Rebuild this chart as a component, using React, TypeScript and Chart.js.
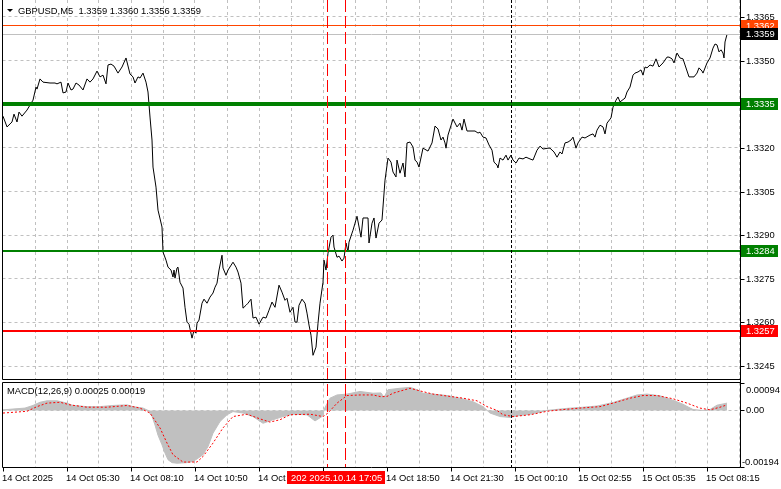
import React, { useEffect, useRef } from 'react';
import { Chart, registerables } from 'chart.js';

Chart.register(...registerables);

// ---------------- data ----------------
const symbolTitle = 'GBPUSD,M5  1.3359 1.3360 1.3356 1.3359';
const macdTitle = 'MACD(12,26,9) 0.00025 0.00019';

// [bar index, close]
const priceSeries: [number, number][] = [
  [0, 1.33309], [2, 1.33272], [4.5, 1.33289], [5.5, 1.33316], [7, 1.33289], [8, 1.33323], [9.5, 1.33309], [12, 1.3333],
  [13.5, 1.33347], [15, 1.33364], [16.5, 1.33409], [17, 1.33402], [18.5, 1.33437], [20, 1.33426], [23.5, 1.33423], [26, 1.33423],
  [27, 1.3342], [29, 1.33426], [30, 1.33389], [31.5, 1.33392], [32.5, 1.33423], [34, 1.33399], [35, 1.33402], [36.5, 1.33423],
  [38, 1.33416], [40, 1.33399], [42, 1.33437], [43.5, 1.33426], [45, 1.33437], [47, 1.33464], [48.5, 1.33444], [50, 1.3345],
  [51.5, 1.3342], [52.5, 1.33485], [54, 1.33488], [55.5, 1.33481], [57.5, 1.33457], [59.5, 1.33478], [61.5, 1.33509], [63.5, 1.33454],
  [65, 1.33444], [66, 1.33423], [67.5, 1.33444], [68.5, 1.3344], [70, 1.33457], [71.5, 1.33426], [72.5, 1.33392], [73.5, 1.33306],
  [74.5, 1.33227], [75, 1.33134], [76.5, 1.33065], [77.5, 1.32986], [79.5, 1.32928], [80, 1.32842], [81.5, 1.32814], [82.5, 1.3279],
  [84, 1.3278], [85, 1.32756], [85.5, 1.3278], [86, 1.32752], [87, 1.32787], [87.5, 1.3279], [88.5, 1.32738], [90, 1.32718],
  [91, 1.32652], [92, 1.32601], [93, 1.32594], [94.5, 1.32546], [95.5, 1.32573], [96.5, 1.32563], [97, 1.32597], [98, 1.32608],
  [99.5, 1.32666], [100.5, 1.3268], [102, 1.32666], [103.5, 1.32687], [105, 1.32701], [106, 1.32721], [107, 1.32735], [108, 1.3278],
  [109.5, 1.32831], [110, 1.32787], [111.5, 1.32762], [112.5, 1.3278], [115, 1.32807], [116.5, 1.3279], [117.5, 1.32773], [119, 1.32735],
  [120, 1.32649], [121.5, 1.32659], [122.5, 1.32666], [124, 1.3268], [125, 1.32615], [126.5, 1.32618], [128, 1.32594], [130, 1.32618],
  [131.5, 1.32615], [133, 1.32642], [134.5, 1.3267], [136, 1.32652], [138, 1.32728], [139.5, 1.32704], [141, 1.32676], [142, 1.32683],
  [143.5, 1.32635], [145, 1.32652], [146, 1.32601], [147, 1.32601], [148, 1.32659], [149.5, 1.3268], [151, 1.32666], [152, 1.32632],
  [153, 1.32591], [154, 1.32556], [155, 1.32487], [156.5, 1.32515], [157.5, 1.32597], [158.5, 1.32666], [160, 1.32738], [160.5, 1.32814],
  [161.5, 1.3278], [162.5, 1.32838], [164, 1.32893], [165, 1.329], [165.5, 1.32859], [167, 1.32824], [168, 1.32828], [169.5, 1.32811],
  [170.5, 1.32821], [171.5, 1.32873], [172.5, 1.32842], [173, 1.32876], [174.5, 1.32907], [175, 1.32917], [176, 1.32941], [177, 1.32965],
  [179, 1.32893], [180, 1.32959], [182.5, 1.32959], [183, 1.32873], [184.5, 1.32941], [185.5, 1.32959], [186.5, 1.3289], [188, 1.32941],
  [189.5, 1.32952], [191, 1.33089], [192.5, 1.33165], [194, 1.33151], [195, 1.33117], [196.5, 1.331], [197, 1.33158], [198.5, 1.33113],
  [200, 1.33148], [201, 1.331], [202, 1.33217], [203.5, 1.3322], [205, 1.33203], [206, 1.33158], [207, 1.33151], [208, 1.33134],
  [210, 1.33199], [212.5, 1.33189], [214.5, 1.33217], [216, 1.33275], [217.5, 1.33265], [219, 1.33227], [220, 1.33237], [221, 1.33217],
  [221.5, 1.33199], [222.5, 1.33244], [225, 1.33299], [227, 1.33272], [228.5, 1.33285], [229.5, 1.33261], [230.5, 1.33299], [232, 1.33258],
  [236, 1.33258], [237.5, 1.33251], [238.5, 1.33254], [240, 1.33237], [241.5, 1.33234], [243, 1.3321], [244.5, 1.33192], [245.5, 1.33151],
  [247, 1.33141], [247.5, 1.33131], [248.5, 1.33165], [250, 1.33158], [251.5, 1.33175], [252.5, 1.33158], [254, 1.33175], [255, 1.33158],
  [256.5, 1.33148], [258, 1.33165], [260, 1.33162], [261.5, 1.33168], [263.5, 1.33162], [265, 1.33158], [267, 1.33192], [268.5, 1.33206],
  [270, 1.33196], [272.5, 1.33199], [273.5, 1.33199], [275.5, 1.33186], [277, 1.33168], [278.5, 1.33186], [279.5, 1.33179], [281, 1.33217],
  [282.5, 1.3322], [284, 1.33227], [285, 1.33237], [286.5, 1.33199], [287.5, 1.33217], [289.5, 1.33237], [291, 1.33234], [293.5, 1.33244],
  [295, 1.33248], [296, 1.33237], [297, 1.33261], [298.5, 1.33278], [300, 1.33272], [301, 1.33248], [302, 1.33285], [304, 1.33303],
  [305, 1.3334], [306.5, 1.33364], [307.5, 1.33375], [308.5, 1.33358], [311, 1.33371], [312, 1.33392], [313.5, 1.33409], [315, 1.3345],
  [316, 1.33457], [317.5, 1.33461], [319, 1.33468], [320, 1.3345], [321, 1.33478], [322, 1.33475], [323.5, 1.33485], [325, 1.33481],
  [326.5, 1.33506], [328, 1.33478], [330, 1.33492], [332, 1.33512], [333, 1.33512], [334.5, 1.33506], [335.5, 1.33492], [337, 1.33526],
  [338.5, 1.33509], [340, 1.33506], [341, 1.33485], [343, 1.33444], [345.5, 1.33444], [347, 1.33457], [348, 1.33475], [349.5, 1.33464],
  [350, 1.33457], [352, 1.33492], [353.5, 1.33509], [355, 1.33543], [356, 1.33557], [357, 1.33554], [358, 1.3353], [359, 1.33537],
  [360, 1.33526], [360.5, 1.33509], [361, 1.33564], [362, 1.3359],
];

// [bar index, MACD main (histogram)]
const macdHistogram: [number, number][] = [
  [0, 0.00002], [11, 0.00008], [15, 0.00017], [18.5, 0.00028], [22, 0.00033], [27, 0.00033], [32, 0.00025], [35, 0.00017],
  [42, 0.00013], [48.5, 0.00013], [55, 0.00017], [62, 0.00019], [65, 0.00013], [70, 0.00008], [72.5, 0], [74.5, -0.0002],
  [76, -0.0005], [77.5, -0.00085], [79.5, -0.00118], [81, -0.00146], [82.5, -0.00169], [84.5, -0.00179], [87, -0.00181], [92, -0.00179],
  [95, -0.00175], [97.5, -0.00164], [100, -0.00152], [102.5, -0.00124], [105, -0.00078], [108.5, -0.00038], [112, -0.00015], [115, -0.00004],
  [120, -0.00009], [125, -0.00021], [130, -0.00044], [135, -0.00032], [140, -0.00021], [145, -0.00013], [152, -0.00015], [156, -0.00036],
  [159.5, -0.00021], [161, 0.0001], [163.5, 0.00042], [167, 0.00053], [172, 0.00056], [178.5, 0.00065], [185, 0.00059], [189, 0.0006],
  [190.5, 0.00045], [192.5, 0.00071], [198.5, 0.00076], [203.5, 0.00079], [207, 0.00071], [210, 0.00059], [215, 0.00056], [222, 0.00051],
  [228.5, 0.00042], [235, 0.0003], [240, 0.00013], [243.5, -0.00009], [248.5, -0.00021], [253.5, -0.00024], [258.5, -0.00017], [263.5, -0.00013],
  [268.5, -0.00006], [272, 0], [282, 0.00007], [288.5, 0.0001], [297, 0.00015], [305, 0.00027], [312, 0.00042], [317, 0.00053],
  [322, 0.00056], [328.5, 0.0005], [335, 0.00035], [340, 0.00021], [345, 0.00003], [350, 0], [353.5, 0.00003], [357, 0.00018],
  [362, 0.00025],
];

// [bar index, MACD signal]
const macdSignal: [number, number][] = [
  [0, -0.00009], [12, -0.00003], [17, 0.00013], [22, 0.00025], [28.5, 0.00028], [33.5, 0.00019], [42, 0.00011], [52, 0.00011],
  [62, 0.00017], [68.5, 0.00008], [73.5, -0.00009], [78.5, -0.0006], [82, -0.00112], [85, -0.00152], [90, -0.00177], [97, -0.00177],
  [100, -0.00158], [105, -0.00112], [110, -0.0006], [115, -0.00021], [122, -0.00013], [128.5, -0.00029], [133.5, -0.0004], [138.5, -0.00032],
  [143.5, -0.00015], [153.5, -0.00013], [160, -0.00021], [162.5, -0.00009], [167, 0.00025], [172, 0.00051], [178.5, 0.00053], [185, 0.00053],
  [189, 0.00047], [192, 0.00048], [195, 0.00059], [203.5, 0.00076], [208.5, 0.00067], [215, 0.00056], [223.5, 0.00048], [230, 0.00042],
  [237, 0.00033], [242, 0.00013], [247, 0], [250, -0.00015], [255, -0.00021], [263.5, -0.00015], [272, -0.00003], [278.5, 0.00002],
  [288.5, 0.00008], [298.5, 0.00013], [305, 0.00025], [313.5, 0.00042], [320, 0.00051], [327, 0.00051], [335, 0.0004], [342, 0.00025],
  [348.5, 0.00008], [353.5, 0.00002], [358.5, 0.00011], [362, 0.00019],
];

const priceTicks = [1.3365, 1.335, 1.3335, 1.332, 1.3305, 1.329, 1.3275, 1.326, 1.3245];
const priceTickLabels = ['1.3365', '1.3350', '1.3335', '1.3320', '1.3305', '1.3290', '1.3275', '1.3260', '1.3245'];
const macdTicks = [0.00094, 0, -0.00194];
const macdTickLabels = ['0.00094', '0.00', '-0.00194'];
const timeTickBars = [0, 32, 64, 96, 128, 160, 192, 224, 256, 288, 320, 352];
const timeTickLabels = [
  '14 Oct 2025', '14 Oct 05:30', '14 Oct 08:10', '14 Oct 10:50', '14 Oct 13:30', '14 Oct 16:10',
  '14 Oct 18:50', '14 Oct 21:30', '15 Oct 00:10', '15 Oct 02:55', '15 Oct 05:35', '15 Oct 08:15',
];
const levelPrices = [1.3335, 1.32846, 1.3257];
const levelLabels = ['1.3335', '1.3284', '1.3257'];
const askPrice = 1.3362;
const askLabel = '1.3362';
const bidPrice = 1.3359;
const bidLabel = '1.3359';
const separatorBar = 254;
const markerBars = [162, 171];
const crosshairText = '202 2025.10.14 17:05';

// ---------------- styles / layout ----------------
const FONT = '9.4px "Liberation Sans", Arial, sans-serif';
const GRID = '#C0C0C0';
const LEFT = 2.5;
const RIGHT = 740.5;
const MAIN_TOP = 0;
const MAIN_BOTTOM = 379.5;
const MACD_TOP = 382.5;
const MACD_BOTTOM = 467.5;
const levelStyles = [
  { color: '#008000', width: 4 },
  { color: '#008000', width: 2 },
  { color: '#FF0000', width: 2 },
];

function line(ctx: CanvasRenderingContext2D, x1: number, y1: number, x2: number, y2: number, color: string, width = 1, dash: number[] = []) {
  ctx.save();
  ctx.strokeStyle = color;
  ctx.lineWidth = width;
  ctx.setLineDash(dash);
  ctx.beginPath();
  ctx.moveTo(x1, y1);
  ctx.lineTo(x2, y2);
  ctx.stroke();
  ctx.restore();
}

function crisp(v: number) {
  return Math.floor(v) + 0.5;
}

function labelBox(ctx: CanvasRenderingContext2D, y: number, text: string, bg: string) {
  ctx.save();
  ctx.fillStyle = bg;
  ctx.fillRect(741, Math.round(y) - 6, 37, 12);
  ctx.fillStyle = '#FFFFFF';
  ctx.font = FONT;
  ctx.textBaseline = 'middle';
  ctx.fillText(text, 746, Math.round(y) + 0.5);
  ctx.restore();
}

const mt4Plugin = {
  id: 'mt4',
  beforeDraw(chart: any) {
    const { ctx, width, height } = chart;
    ctx.save();
    ctx.fillStyle = '#FFFFFF';
    ctx.fillRect(0, 0, width, height);
    ctx.restore();
  },
  beforeDatasetsDraw(chart: any) {
    const { ctx } = chart;
    const xs = chart.scales.x;
    const ys = chart.scales.y;
    const ms = chart.scales.m;
    for (let b = 16; b <= xs.max; b += 16) {
      const x = crisp(xs.getPixelForValue(b));
      if (x > RIGHT - 1) continue;
      line(ctx, x, MAIN_TOP, x, MAIN_BOTTOM, GRID, 1, [3, 3]);
      line(ctx, x, MACD_TOP, x, MACD_BOTTOM, GRID, 1, [3, 3]);
    }
    priceTicks.forEach((p) => {
      const y = crisp(ys.getPixelForValue(p));
      line(ctx, LEFT, y, RIGHT, y, GRID, 1, [3, 3]);
    });
    const z = crisp(ms.getPixelForValue(0));
    line(ctx, LEFT, z, RIGHT, z, GRID, 1, [3, 3]);
  },
  afterDatasetsDraw(chart: any) {
    const { ctx } = chart;
    const xs = chart.scales.x;
    const ys = chart.scales.y;
    const yAsk = crisp(ys.getPixelForValue(askPrice));
    line(ctx, LEFT, yAsk, RIGHT, yAsk, '#FF4500', 1);
    const yBid = crisp(ys.getPixelForValue(bidPrice));
    line(ctx, LEFT, yBid, RIGHT, yBid, GRID, 1);
    levelPrices.forEach((p, i) => {
      const st = levelStyles[i];
      const y = Math.round(ys.getPixelForValue(p));
      line(ctx, LEFT, y, RIGHT, y, st.color, st.width);
    });
    const sx = crisp(xs.getPixelForValue(separatorBar));
    line(ctx, sx, MAIN_TOP, sx, MACD_BOTTOM, '#000000', 1, [3, 2]);
    markerBars.forEach((b) => {
      const x = crisp(xs.getPixelForValue(b));
      line(ctx, x, MAIN_TOP, x, MACD_BOTTOM, '#FF0000', 1, [12, 4]);
    });
  },
  afterDraw(chart: any) {
    const { ctx } = chart;
    const xs = chart.scales.x;
    const ys = chart.scales.y;
    const ms = chart.scales.m;
    // gap between panels
    ctx.save();
    ctx.fillStyle = '#FFFFFF';
    ctx.fillRect(0, MAIN_BOTTOM + 0.5, RIGHT, MACD_TOP - MAIN_BOTTOM - 1);
    ctx.restore();
    // panel borders
    line(ctx, LEFT, MAIN_TOP, LEFT, MAIN_BOTTOM, '#000');
    line(ctx, LEFT, MAIN_BOTTOM, RIGHT, MAIN_BOTTOM, '#000');
    line(ctx, LEFT, MACD_TOP, RIGHT, MACD_TOP, '#000');
    line(ctx, LEFT, MACD_TOP, LEFT, MACD_BOTTOM, '#000');
    line(ctx, LEFT, MACD_BOTTOM, RIGHT, MACD_BOTTOM, '#000');
    line(ctx, RIGHT, MAIN_TOP, RIGHT, MACD_BOTTOM, '#000');

    ctx.save();
    ctx.font = FONT;
    ctx.textBaseline = 'middle';
    ctx.fillStyle = '#000';
    // price axis
    priceTicks.forEach((p, i) => {
      const y = Math.round(ys.getPixelForValue(p));
      line(ctx, RIGHT, y + 0.5, RIGHT + 4, y + 0.5, '#000');
      ctx.fillText(priceTickLabels[i], 746, y + 0.5);
    });
    // macd axis
    macdTicks.forEach((v, i) => {
      let y = Math.round(ms.getPixelForValue(v));
      line(ctx, RIGHT, y + 0.5, RIGHT + 4, y + 0.5, '#000');
      if (i === 0) y += 7;
      if (i === macdTicks.length - 1) y -= 5;
      ctx.fillText(macdTickLabels[i], i === macdTicks.length - 1 ? 742 : 746, y + 0.5);
    });
    // time axis
    timeTickBars.forEach((b, i) => {
      const x = Math.round(xs.getPixelForValue(b));
      line(ctx, x + 0.5, MACD_BOTTOM, x + 0.5, MACD_BOTTOM + 4, '#000');
      ctx.fillText(timeTickLabels[i], Math.max(x - 1, 2), 478);
    });
    // titles
    ctx.fillText(symbolTitle, 18, 11);
    ctx.fillText(macdTitle, 7, 391);
    ctx.beginPath();
    ctx.moveTo(7, 9);
    ctx.lineTo(13, 9);
    ctx.lineTo(10, 12);
    ctx.closePath();
    ctx.fill();
    ctx.restore();

    // level / price boxes
    levelPrices.forEach((p, i) => {
      labelBox(ctx, ys.getPixelForValue(p), levelLabels[i], levelStyles[i].color);
    });
    labelBox(ctx, ys.getPixelForValue(askPrice), askLabel, '#FF4500');
    labelBox(ctx, ys.getPixelForValue(bidPrice), bidLabel, '#000000');

    // crosshair time label
    ctx.save();
    ctx.fillStyle = '#FF0000';
    ctx.fillRect(287, 471, 98, 13);
    ctx.fillStyle = '#FFFFFF';
    ctx.font = FONT;
    ctx.textBaseline = 'middle';
    ctx.fillText(crosshairText, 291, 478);
    ctx.restore();
  },
};

export default function App() {
  const canvasRef = useRef<HTMLCanvasElement | null>(null);

  useEffect(() => {
    if (!canvasRef.current) return;
    const chart = new Chart(canvasRef.current, {
      type: 'line',
      data: {
        datasets: [
          {
            label: 'MACD',
            data: macdHistogram.map(([x, y]) => ({ x, y })),
            yAxisID: 'm',
            borderColor: '#C0C0C0',
            backgroundColor: '#C0C0C0',
            borderWidth: 1,
            fill: 'origin',
            pointRadius: 0,
            order: 3,
          },
          {
            label: 'Signal',
            data: macdSignal.map(([x, y]) => ({ x, y })),
            yAxisID: 'm',
            borderColor: '#FF0000',
            borderWidth: 1,
            borderDash: [2, 2],
            fill: false,
            pointRadius: 0,
            order: 2,
          },
          {
            label: 'GBPUSD',
            data: priceSeries.map(([x, y]) => ({ x, y })),
            yAxisID: 'y',
            borderColor: '#000000',
            borderWidth: 1,
            fill: false,
            pointRadius: 0,
            order: 1,
          },
        ],
      },
      options: {
        animation: false,
        responsive: false,
        maintainAspectRatio: false,
        devicePixelRatio: 1,
        events: [],
        layout: { padding: { left: 3, top: 3, right: 41, bottom: 22 } },
        elements: { line: { tension: 0 }, point: { radius: 0 } },
        plugins: { legend: { display: false }, tooltip: { enabled: false } },
        scales: {
          x: { type: 'linear', display: false, min: 0, max: 368.5 },
          y: { type: 'linear', display: false, min: 1.32103, max: 1.33698 },
          m: { type: 'linear', display: false, min: -0.00194, max: 0.013969 },
        },
      },
      plugins: [mt4Plugin],
    } as any);
    return () => chart.destroy();
  }, []);

  return (
    <div style={{ position: 'fixed', left: 0, top: 0, width: 781, height: 489, background: '#fff' }}>
      <canvas ref={canvasRef} width={781} height={489} style={{ display: 'block' }} />
    </div>
  );
}
